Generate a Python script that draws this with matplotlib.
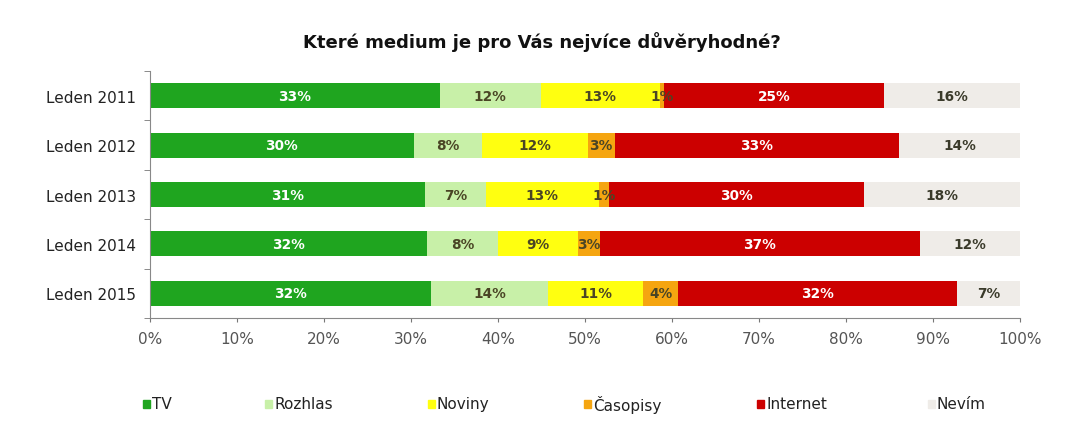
import matplotlib
matplotlib.use("Agg")
import matplotlib.pyplot as plt
import numpy as np

years = ["Leden 2011", "Leden 2012", "Leden 2013", "Leden 2014", "Leden 2015"]
series = ["TV", "Rozhlas", "Noviny", "Časopisy", "Internet", "Nevím"]

tv       = [33.3, 30.3, 31.6, 31.8, 32.3]
rozhlas  = [11.6, 7.9, 7.0, 8.2, 13.5]
noviny   = [13.7, 12.1, 13.0, 9.2, 10.9]
casopisy = [0.5, 3.1, 1.2, 2.5, 4.0]
internet = [25.3, 32.7, 29.3, 36.8, 32.1]
nevim    = [15.6, 13.9, 17.9, 11.5, 7.2]

lab_tv       = ["33%", "30%", "31%", "32%", "32%"]
lab_rozhlas  = ["12%", "8%", "7%", "8%", "14%"]
lab_noviny   = ["13%", "12%", "13%", "9%", "11%"]
lab_casopisy = ["1%", "3%", "1%", "3%", "4%"]
lab_internet = ["25%", "33%", "30%", "37%", "32%"]
lab_nevim    = ["16%", "14%", "18%", "12%", "7%"]

xticks = [0, 10, 20, 30, 40, 50, 60, 70, 80, 90, 100]

colors = ["#1fa51f", "#c8f0a8", "#ffff10", "#f5a510", "#cc0000", "#efece8"]
text_colors = ["white", "#4a4525", "#4a4525", "#4a4525", "white", "#3a3a2a"]

data = [tv, rozhlas, noviny, casopisy, internet, nevim]
labels = [lab_tv, lab_rozhlas, lab_noviny, lab_casopisy, lab_internet, lab_nevim]

fig = plt.figure(figsize=(10.72, 4.27), dpi=100)
ax = fig.add_axes([150 / 1072, 1 - 319 / 427, 870 / 1072, 247 / 427])

y = np.arange(len(years))
left = np.zeros(len(years))
for name, vals, labs, c, tc in zip(series, data, labels, colors, text_colors):
    vals = np.array(vals)
    ax.barh(y, vals, left=left, height=0.51, color=c, edgecolor="none", label=name)
    for i, (v, l) in enumerate(zip(vals, labs)):
        ax.text(left[i] + v / 2, y[i], l, ha="center", va="center",
                fontsize=9.8, fontweight="bold", color=tc)
    left = left + vals

ax.set_xlim(0, 100)
ax.set_ylim(4.5, -0.5)
ax.set_xticks(xticks)
ax.set_xticklabels([f"{t}%" for t in xticks], color="#555555", fontsize=11)
ax.set_yticks(y)
ax.set_yticklabels(years, fontsize=11, color="#222222")
ax.set_yticks(np.arange(-0.5, 5.0, 1.0), minor=True)
ax.tick_params(axis="y", which="major", length=0, pad=10)
ax.tick_params(axis="y", which="minor", length=4, color="#777777", direction="out")
ax.tick_params(axis="x", length=3, color="#777777", direction="out", pad=6)

for s in ["top", "right"]:
    ax.spines[s].set_visible(False)
ax.spines["left"].set_color("#888888")
ax.spines["bottom"].set_color("#888888")

fig.text(542 / 1072, 1 - 42 / 427, "Které medium je pro Vás nejvíce důvěryhodné?",
         ha="center", va="center", fontsize=13, fontweight="bold", color="#111111")

leg_x = [143, 265, 428, 584, 757, 928]
for name, c, lx in zip(series, colors, leg_x):
    fig.patches.append(plt.Rectangle((lx / 1072, 1 - 409 / 427), 7 / 1072, 8 / 427,
                                     transform=fig.transFigure, color=c))
    fig.text((lx + 9) / 1072, 1 - 405 / 427, name, ha="left", va="center",
             fontsize=11, color="#222222")

fig.savefig("out.png", dpi=100)
